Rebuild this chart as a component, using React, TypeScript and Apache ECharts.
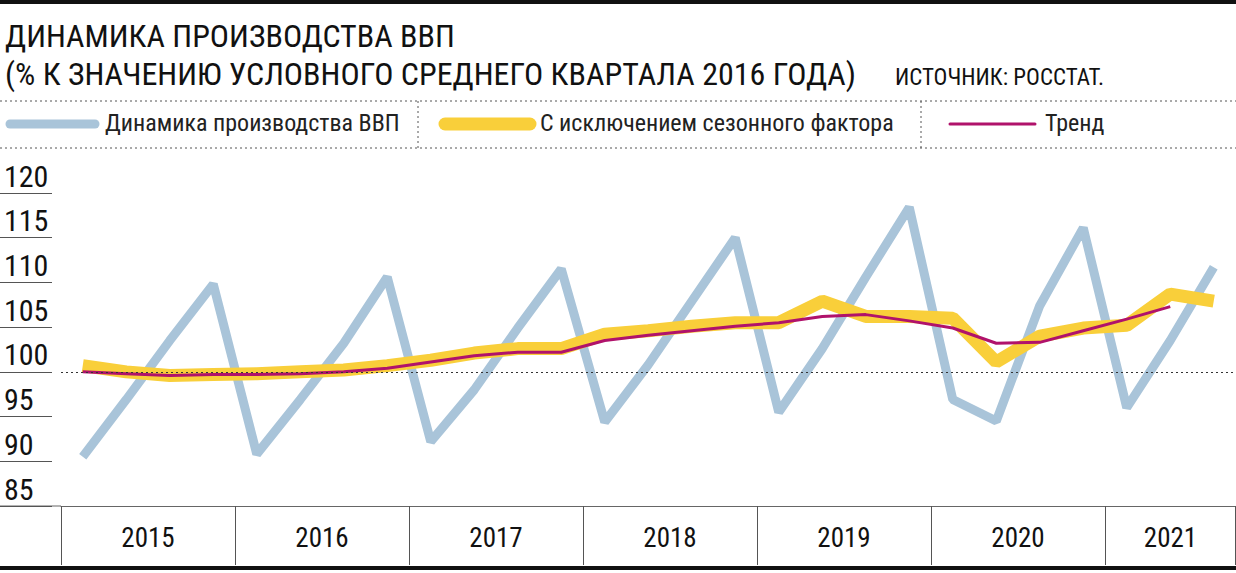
import React, { useEffect, useRef } from "react";
import * as echarts from "echarts";

const quarters = Array.from({ length: 27 }, (_, i) => `${2015 + Math.floor(i / 4)} Q${(i % 4) + 1}`);
const years = ["2015", "2016", "2017", "2018", "2019", "2020", "2021"];
const gdp = [90.5, 96.9, 103.5, 109.8, 90.8, 96.9, 103.2, 110.6, 92.2, 98, 104.9, 111.5, 94.4, 100.8, 107.9, 115, 95.5, 102.6, 110.6, 118.4, 96.9, 94.5, 107.4, 116.1, 96, 103.5, 111.7];
const seasonal = [100.7, 100, 99.6, 99.7, 99.8, 100, 100.2, 100.7, 101.3, 102.1, 102.6, 102.6, 104.2, 104.6, 105.1, 105.5, 105.5, 107.9, 106.2, 106.2, 106, 101.1, 104, 104.9, 105.2, 108.7, 107.9];
const trend = [100, 99.8, 99.6, 99.7, 99.7, 99.8, 100, 100.4, 101.1, 101.8, 102.2, 102.2, 103.5, 104.1, 104.6, 105.1, 105.5, 106.2, 106.4, 105.7, 104.9, 103.2, 103.3, 104.6, 105.9, 107.3, null];
const legendNames = ["Динамика производства ВВП", "С исключением сезонного фактора", "Тренд"];

const FONT = "'Liberation Sans Narrow', 'Roboto Condensed', Roboto, sans-serif";
const BLUE = "#a9c4d9", YELLOW = "#f9cf3a", TREND = "#b0126b";

export default function App() {
  const ref = useRef<HTMLDivElement>(null);
  useEffect(() => {
    const chart = echarts.init(ref.current!, null, { renderer: "svg" });
    const left = 61, q = 43.5;
    const yearX = years.map((_, i) => {
      const s = left + q * 4 * i;
      const e = Math.min(s + q * 4, 1236);
      return (s + e) / 2;
    });
    const legendX = [5, 440, 945];
    const legendCol = [BLUE, YELLOW, TREND];
    const legendW = [9, 13, 3];
    const graphic: any[] = [
      { type: "rect", shape: { x: 0, y: 0, width: 1236, height: 4 }, style: { fill: "#111" } },
      { type: "rect", shape: { x: 0, y: 566, width: 1236, height: 4 }, style: { fill: "#111" } },
      { type: "line", shape: { x1: 0, y1: 506, x2: 61, y2: 506 }, style: { stroke: "#666", lineWidth: 1 } },
      { type: "text", left: 5, top: 20, style: { text: "ДИНАМИКА ПРОИЗВОДСТВА ВВП", font: `32px ${FONT}`, fill: "#111" } },
      { type: "text", left: 5, top: 58, style: { text: "(% К ЗНАЧЕНИЮ УСЛОВНОГО СРЕДНЕГО КВАРТАЛА 2016 ГОДА)", font: `32px ${FONT}`, fill: "#111" } },
      { type: "text", left: 895, top: 66, style: { text: "ИСТОЧНИК: РОССТАТ.", font: `23px ${FONT}`, fill: "#111" } },
      { type: "line", shape: { x1: 0, y1: 101, x2: 1236, y2: 101 }, style: { stroke: "#555", lineDash: [2, 3], lineWidth: 1 } },
      { type: "line", shape: { x1: 0, y1: 148, x2: 1236, y2: 148 }, style: { stroke: "#555", lineDash: [2, 3], lineWidth: 1 } },
      { type: "line", shape: { x1: 418, y1: 101, x2: 418, y2: 148 }, style: { stroke: "#555", lineDash: [2, 3], lineWidth: 1 } },
      { type: "line", shape: { x1: 921, y1: 101, x2: 921, y2: 148 }, style: { stroke: "#555", lineDash: [2, 3], lineWidth: 1 } },
    ];
    legendNames.forEach((n, i) => {
      graphic.push({ type: "line", shape: { x1: legendX[i] + 5, y1: 124, x2: legendX[i] + 90, y2: 124 }, style: { stroke: legendCol[i], lineWidth: legendW[i], lineCap: "round" } });
      graphic.push({ type: "text", left: legendX[i] + 100, top: 111, style: { text: n, font: `24px ${FONT}`, fill: "#222" } });
    });
    years.forEach((y, i) => {
      graphic.push({ type: "text", x: yearX[i], y: 538, style: { text: y, font: `27px ${FONT}`, fill: "#111", align: "center", verticalAlign: "middle" } });
    });
    chart.setOption({
      animation: false,
      grid: { left, right: 0.5, top: 193, bottom: 573 - 506 },
      xAxis: {
        type: "category", data: quarters, boundaryGap: true,
        axisLine: { lineStyle: { color: "#666", width: 1 } },
        axisTick: { show: true, inside: false, length: 59, interval: (i: number) => i % 4 === 0, lineStyle: { color: "#555" } },
        axisLabel: { show: false },
      },
      yAxis: {
        type: "value", min: 85, max: 120, interval: 5, offset: 9,
        splitLine: { show: false },
        axisLine: { show: false },
        axisTick: { show: true, length: 52, lineStyle: { color: "#555" } },
        axisLabel: { margin: 48, align: "left", verticalAlign: "bottom", padding: [0, 0, 2, 0], fontSize: 30, fontFamily: FONT, color: "#111" },
      },
      graphic,
      series: [
        { type: "line", data: gdp, symbol: "none", lineStyle: { color: BLUE, width: 9 }, z: 1,
          markLine: { silent: true, symbol: "none", label: { show: false }, lineStyle: { color: "#333", type: [2, 3], width: 1 }, data: [{ yAxis: 100 }] } },
        { type: "line", data: seasonal, symbol: "none", lineStyle: { color: YELLOW, width: 13 }, z: 2 },
        { type: "line", data: trend, symbol: "none", lineStyle: { color: TREND, width: 3 }, z: 3 },
      ],
    });
    return () => chart.dispose();
  }, []);
  return <div ref={ref} style={{ width: 1236, height: 573, position: "absolute", left: 0, top: 0, background: "#fff" }} />;
}
